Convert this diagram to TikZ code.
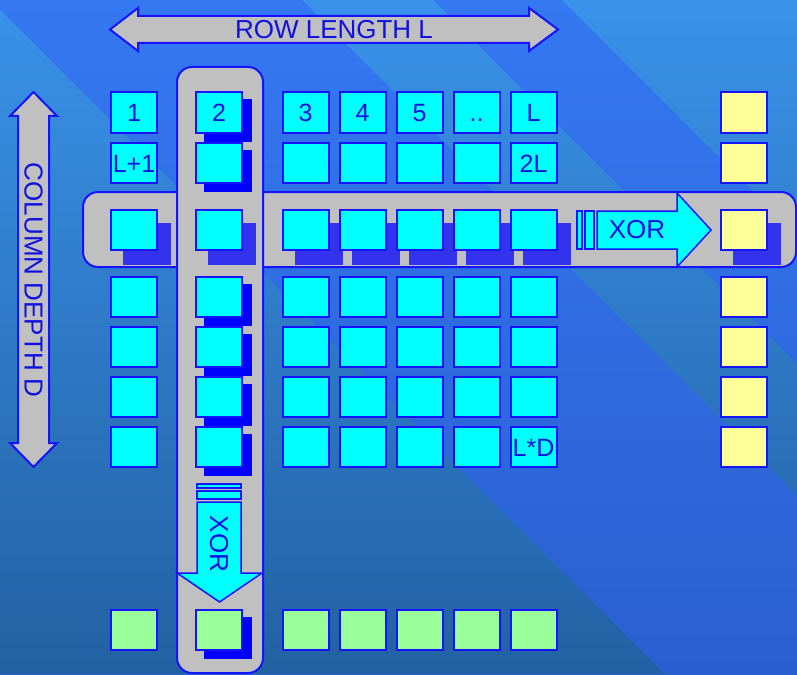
\documentclass[tikz,border=0pt]{standalone}
\usepackage{fontspec}
\setmainfont{Liberation Sans}
\usetikzlibrary{positioning,shadows}

\definecolor{niebieski}{HTML}{3478F2}
\definecolor{niebieskidol}{HTML}{2A5FCF}
\definecolor{jasny}{HTML}{3A92EA}
\definecolor{jasnydol}{HTML}{2261A2}
\definecolor{ramka}{HTML}{1414FF}
\definecolor{napis}{HTML}{1010E0}
\definecolor{szary}{HTML}{C0C0C0}
\definecolor{turkus}{HTML}{00FFFF}
\definecolor{zolty}{HTML}{FFFF99}
\definecolor{zielony}{HTML}{99FF99}
\definecolor{cienrzad}{HTML}{3333EE}
\definecolor{cienkol}{HTML}{0000FF}

\tikzset{
  kratka/.style={draw=ramka, line width=2pt, fill=turkus, minimum width=46pt,
    minimum height=40pt, inner sep=0pt, text height=18pt, text depth=0pt,
    text=napis, font=\fontsize{25}{25}\selectfont},
  wiersz/.style={drop shadow={shadow xshift=13pt, shadow yshift=-14pt, fill=cienrzad, draw=cienrzad, opacity=1}},
  kolumna/.style={drop shadow={shadow xshift=9pt, shadow yshift=-8pt, fill=cienkol, draw=cienkol, opacity=1}},
  pas/.style={draw=ramka, line width=2pt, fill=szary, rounded corners=15pt},
  strzalka/.style={draw=ramka, line width=2pt, fill=szary},
  xorstrz/.style={draw=ramka, line width=1.5pt, fill=turkus},
  opis/.style={text=napis, font=\fontsize{26}{26}\selectfont, inner sep=0pt}
}

\begin{document}
\begin{tikzpicture}[x=1pt, y=-1pt]

% Tło z ukośnymi pasami
\useasboundingbox (0,0) rectangle (797,674);
\shade[top color=niebieski, bottom color=niebieskidol] (0,0) rectangle (797,674);
\begin{scope}
  \clip (0,10) -- (664,674) -- (0,674) -- cycle
        (302,0) -- (433,0) -- (797,364) -- (797,495) -- cycle
        (562,0) -- (797,0) -- (797,235) -- cycle;
  \shade[top color=jasny, bottom color=jasnydol] (0,0) rectangle (797,674);
\end{scope}

% Pasy: wiersz i kolumna
\draw[pas] (83,192) rectangle (796,267);
\draw[pas] (177,67) rectangle (263,673);

% Wiersze 1 i 2 (z opisami)
\foreach \k/\x/\ta/\tb in {1/134/1/L+1, 3/305.5/3/{}, 4/362.5/4/{},
  5/419.5/5/{}, 6/476.5/../{}, 7/533.5/L/2L} {
  \node[kratka] (k1\k) at (\x,112.5) {\ta};
  \node[kratka] (k2\k) at (\x,163) {\tb};
}

% Wiersz 3 (z cieniem)
\foreach \k/\x in {1/134, 2/219, 3/305.5, 4/362.5, 5/419.5, 6/476.5, 7/533.5}
  \node[kratka, wiersz] (k3\k) at (\x,229.5) {};
\node[kratka, wiersz, fill=zolty] (z3) at (743.5,229.5) {};

% Wiersze 4-7
\foreach \r/\y in {4/296.5, 5/346.5, 6/396.5, 7/447} {
  \foreach \k/\x in {1/134, 3/305.5, 4/362.5, 5/419.5, 6/476.5, 7/533.5}
    \node[kratka] (k\r\k) at (\x,\y) {\ifnum\r\k=77 L*D\fi};
}

% Kolumna 2 (z cieniem)
\foreach \r/\y/\t in {1/112.5/2, 2/163/{}, 4/296.5/{}, 5/346.5/{}, 6/396.5/{}, 7/447/{}}
  \node[kratka, kolumna] (k\r2) at (219,\y) {\t};

% Kolumna wyników (żółta)
\foreach \r/\y in {1/112.5, 2/163, 4/296.5, 5/346.5, 6/396.5, 7/447}
  \node[kratka, fill=zolty] (z\r) at (743.5,\y) {};

% Wiersz wyników (zielony)
\foreach \k/\x in {1/134, 3/305.5, 4/362.5, 5/419.5, 6/476.5, 7/533.5}
  \node[kratka, fill=zielony] (g\k) at (\x,630) {};
\node[kratka, kolumna, fill=zielony] (g2) at (219,630) {};

% Strzałka długości wiersza
\draw[strzalka] (110,29.5) -- (138,8) -- (138,16) -- (529,16) -- (529,8) -- (558,29.5)
  -- (529,51) -- (529,43) -- (138,43) -- (138,51) -- cycle;
\node[opis] (dlugosc) at (334,30) {ROW LENGTH L};

% Strzałka głębokości kolumny
\draw[strzalka] (33.5,92) -- (57,116) -- (49,116) -- (49,443) -- (57,443) -- (33.5,467)
  -- (10,443) -- (18,443) -- (18,116) -- (10,116) -- cycle;
\node[opis, rotate=-90] (glebokosc) at (33.5,280) {COLUMN DEPTH D};

% XOR w wierszu
\draw[xorstrz] (577,211) rectangle (582,249);
\draw[xorstrz] (585,211) rectangle (594,249);
\draw[xorstrz] (597,211) -- (677,211) -- (677,193) -- (711,230) -- (677,267) -- (677,249)
  -- (597,249) -- cycle;
\node[opis] (xorw) at (637,230) {XOR};

% XOR w kolumnie
\draw[xorstrz] (197,484) rectangle (241,488);
\draw[xorstrz] (197,491) rectangle (241,499);
\draw[xorstrz] (197,502) -- (241,502) -- (241,573) -- (262,573) -- (219.5,602) -- (177,573)
  -- (197,573) -- cycle;
\node[opis, rotate=-90] (xork) at (219,544) {XOR};

\end{tikzpicture}
\end{document}
